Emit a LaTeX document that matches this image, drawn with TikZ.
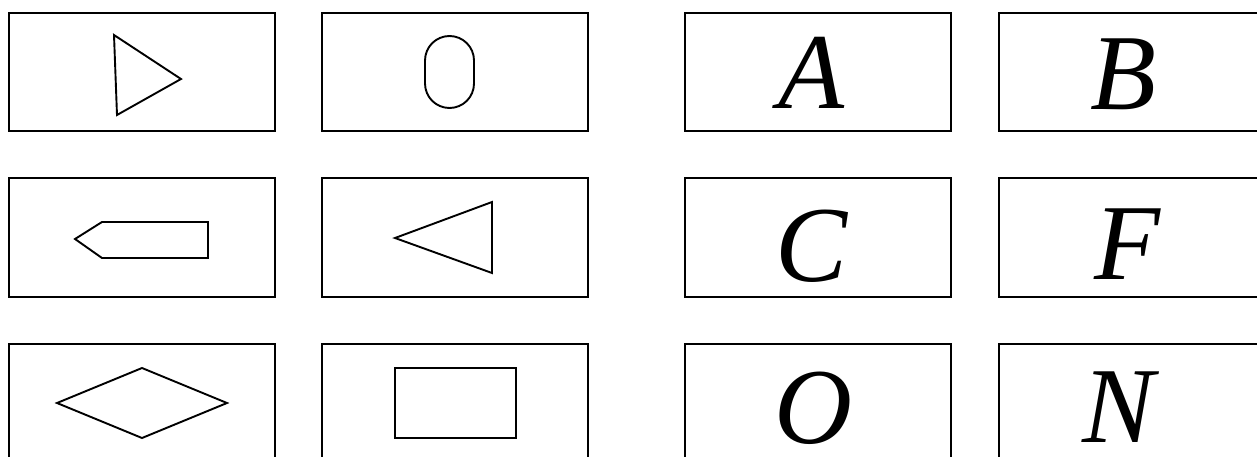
\documentclass[tikz,border=0pt]{standalone}
\usepackage{fontspec}
\setmainfont{Liberation Serif}
\newfontfamily\timesit{Liberation Serif Italic}
\begin{document}
\begin{tikzpicture}[x=1pt,y=-1pt,
  frame/.style={draw=black,line width=2.1pt},
  shp/.style={draw=black,line width=1.9pt,line join=miter},
  letter/.style={anchor=base,inner sep=0pt,text depth=0pt,font=\fontsize{108pt}{108pt}\selectfont\timesit}]
\useasboundingbox (0,0) rectangle (1257,457);
% boxes
\path[frame] (9,13) rectangle (275,131);
\path[frame] (322,13) rectangle (588,131);
\path[frame] (685,13) rectangle (951,131);
\path[frame] (999,13) rectangle (1265,131);
\path[frame] (9,178) rectangle (275,297);
\path[frame] (322,178) rectangle (588,297);
\path[frame] (685,178) rectangle (951,297);
\path[frame] (999,178) rectangle (1265,297);
\path[frame] (9,344) rectangle (275,470);
\path[frame] (322,344) rectangle (588,470);
\path[frame] (685,344) rectangle (951,470);
\path[frame] (999,344) rectangle (1265,470);
% shapes
\draw[shp] (114,35) -- (181,79) -- (117,115) -- cycle;
\draw[shp,rounded corners=24.5pt] (425,36) rectangle (474,108);
\draw[shp] (75,239) -- (102,222) -- (208,222) -- (208,258) -- (102,258) -- cycle;
\draw[shp] (395,238) -- (492,202) -- (492,273) -- cycle;
\draw[shp] (57,403) -- (142,368) -- (227,403) -- (142,438) -- cycle;
\draw[shp] (395,368) rectangle (516,438);
% letters
\node[letter] (A) at (811,109) {A};
\node[letter] (B) at (1123,110) {B};
\node[letter] (C) at (812,281) {C};
\node[letter] (F) at (1127,279) {F};
\node[letter] (O) at (813,443) {O};
\node[letter] (N) at (1119,442) {N};
\end{tikzpicture}
\end{document}
